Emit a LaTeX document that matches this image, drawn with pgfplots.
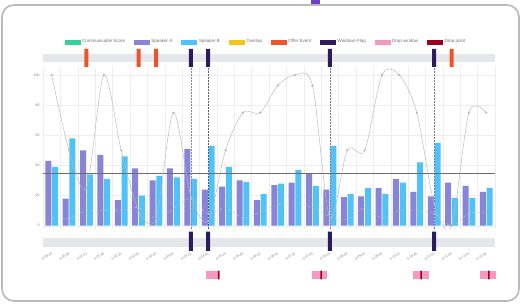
\documentclass[border=0pt]{standalone}
\usepackage{fontspec}
\setmainfont{Liberation Sans}
\usepackage{pgfplots}
\pgfplotsset{compat=1.18}
\definecolor{cscore}{HTML}{34D399}
\definecolor{spA}{HTML}{8884D8}
\definecolor{spB}{HTML}{4FC3F7}
\definecolor{overlapc}{HTML}{F5C518}
\definecolor{offer}{HTML}{F0522A}
\definecolor{winflag}{HTML}{2E1A5E}
\definecolor{dropwin}{HTML}{F49AC1}
\definecolor{droppt}{HTML}{A0001C}
\definecolor{band}{HTML}{E5E7EB}
\definecolor{tab}{HTML}{6A3FC0}
\pgfplotsset{trackaxis/.style={scale only axis, width=452pt, xmin=-0.5, xmax=25.5, ymin=0, ymax=1,
  axis line style={draw=none}, major tick length=0pt, ytick=\empty, clip=false, anchor=south west}}
\begin{document}
\begin{tikzpicture}[x=1pt,y=1pt]
\useasboundingbox (0,0) rectangle (521,307);
\fill[tab] (311,301) rectangle (320,307);
\draw[gray!55, line width=1.6pt, rounded corners=12pt, fill=white] (2,6) rectangle (519,302);

% main plot
\begin{axis}[scale only axis, width=452pt, height=161.2pt, at={(43pt,78.3pt)}, anchor=south west,
  xmin=-0.5, xmax=25.5, ymin=-2, ymax=105,
  ytick={0,20,...,100}, xtick={-0.5,0.5,...,25.5}, xticklabels={},
  xmajorgrids, ymajorgrids, grid style={gray!13, line width=0.3pt},
  axis line style={draw=none}, major tick length=0pt,
  yticklabel style={font=\fontsize{3.5}{4}\selectfont, text=gray},
  /pgf/number format/assume math mode=true,
  legend columns=8,
  legend style={draw=none, fill=none, at={(0.5,1)}, anchor=center, yshift=25.5pt, xshift=-3pt,
    font=\fontsize{4.5}{5}\selectfont, text=gray!90!black,
    /tikz/every even column/.append style={column sep=7pt}},
  ]
\addlegendimage{legend image code/.code={\fill[cscore] (0pt,-2pt) rectangle (15pt,2pt);}}
\addlegendentry{Communicable Score}
\addlegendimage{legend image code/.code={\fill[spA] (0pt,-2pt) rectangle (15pt,2pt);}}
\addlegendentry{Speaker A}
\addlegendimage{legend image code/.code={\fill[spB] (0pt,-2pt) rectangle (15pt,2pt);}}
\addlegendentry{Speaker B}
\addlegendimage{legend image code/.code={\fill[overlapc] (0pt,-2pt) rectangle (15pt,2pt);}}
\addlegendentry{Overlap}
\addlegendimage{legend image code/.code={\fill[offer] (0pt,-2pt) rectangle (15pt,2pt);}}
\addlegendentry{Offer Event}
\addlegendimage{legend image code/.code={\fill[winflag] (0pt,-2pt) rectangle (15pt,2pt);}}
\addlegendentry{Windows Flag}
\addlegendimage{legend image code/.code={\fill[dropwin] (0pt,-2pt) rectangle (15pt,2pt);}}
\addlegendentry{Drop window}
\addlegendimage{legend image code/.code={\fill[droppt] (0pt,-2pt) rectangle (15pt,2pt);}}
\addlegendentry{Drop point}

\addplot[ybar, bar width=6pt, bar shift=-3.4pt, fill=spA, draw=none, forget plot] coordinates {
(0,43) (1,18) (2,50) (3,47) (4,17) (5,38) (6,30) (7,38) (8,51) (9,24) (10,26) (11,30) (12,17)
(13,27) (14,28.5) (15,34.5) (16,24) (17,19) (18,19.5) (19,25) (20,31) (21,22.5) (22,19.5) (23,28.5) (24,26.5) (25,22.5)};
\addplot[ybar, bar width=6pt, bar shift=3.4pt, fill=spB, draw=none, forget plot] coordinates {
(0,39) (1,58) (2,34) (3,31) (4,46) (5,20) (6,33) (7,32) (8,31) (9,53) (10,39) (11,29) (12,21)
(13,28) (14,37) (15,26.5) (16,53) (17,21) (18,25) (19,21) (20,28.5) (21,42) (22,55) (23,18.5) (24,18.5) (25,25)};
% window flag lines
\addplot[winflag!55, dash pattern=on 1.5pt off 1.5pt, line width=0.5pt, forget plot] coordinates {(8,-2) (8,105)};
\addplot[winflag!75, dash pattern=on 1.5pt off 1.5pt, line width=0.5pt, forget plot] coordinates {(9,-2) (9,105)};
\addplot[winflag!60, dash pattern=on 1.5pt off 1.5pt, line width=0.5pt, forget plot] coordinates {(16,-2) (16,105)};
\addplot[winflag!60, dash pattern=on 1.5pt off 1.5pt, line width=0.5pt, forget plot] coordinates {(22,-2) (22,105)};
% threshold
\addplot[gray!85!black, line width=0.6pt, forget plot] coordinates {(-0.5,35) (25.5,35)};
% lower faint line
\addplot[smooth, gray!45, densely dashed, line width=0.35pt, mark=*, mark size=0.5pt,
  mark options={solid, fill=gray!55, draw=none}, forget plot] coordinates {
(0,5) (1,5) (2,10) (3,10) (4,10) (5,12) (6,5) (7,11) (8,18) (9,8) (10,12) (11,5) (12,9)
(13,14) (14,15) (15,12) (16,6) (17,4) (18,12) (19,5) (20,10) (21,10) (22,8) (23,0) (24,8) (25,9)};
% communicable score
\addplot[smooth, gray!55, line width=0.45pt, mark=*, mark size=0.8pt,
  mark options={fill=cscore!60!gray, draw=none}, forget plot] coordinates {
(0,100) (1,50) (2,25) (3,100) (4,50) (5,10) (6,5) (7,75) (8,20) (9,3) (10,50) (11,75) (12,75)
(13,93) (14,100) (15,93) (16,5) (17,50) (18,50) (19,100) (20,100) (21,75) (22,15) (23,0) (24,75) (25,75)};
\end{axis}

% top track
\begin{axis}[trackaxis, height=18pt, at={(43pt,240pt)}, xtick=\empty]
\fill[band] (axis cs:-0.5,0.25) rectangle (axis cs:25.5,0.74);
\addplot[ybar, bar width=4pt, bar shift=0pt, fill=offer, draw=none] coordinates {(2,1) (5,1) (6,1) (23,1)};
\addplot[ybar, bar width=4pt, bar shift=0pt, fill=winflag, draw=none] coordinates {(8,1) (9,1) (16,1) (22,1)};
\end{axis}

% bottom track
\begin{axis}[trackaxis, height=19.3pt, at={(43pt,56pt)}, xtick={0,...,25},
  xticklabels={0:00:15,0:00:45,0:01:15,0:01:45,0:02:15,0:02:45,0:03:15,0:03:45,0:04:15,0:04:45,0:05:15,0:05:45,0:06:15,0:06:45,0:07:15,0:07:45,0:08:15,0:08:45,0:09:15,0:09:45,0:10:15,0:10:45,0:11:15,0:11:45,0:12:15,0:12:45},
  xticklabel style={font=\fontsize{3.3}{4}\selectfont, text=gray, rotate=30, anchor=north east, inner sep=1pt}]
\fill[band] (axis cs:-0.5,0.22) rectangle (axis cs:25.5,0.69);
\addplot[ybar, bar width=4pt, bar shift=0pt, fill=winflag, draw=none] coordinates {(8,1) (9,1) (16,1) (22,1)};
\end{axis}

% drop track
\begin{axis}[trackaxis, height=8.6pt, at={(43pt,27.7pt)}, xtick=\empty]
\addplot[fill=dropwin, draw=none] coordinates {(8.87,1) (9.68,1)} \closedcycle;
\addplot[fill=dropwin, draw=none] coordinates {(14.96,1) (15.82,1)} \closedcycle;
\addplot[fill=dropwin, draw=none] coordinates {(20.78,1) (21.68,1)} \closedcycle;
\addplot[fill=dropwin, draw=none] coordinates {(24.65,1) (25.56,1)} \closedcycle;
\addplot[ybar, bar width=1.6pt, bar shift=0pt, fill=droppt, draw=none] coordinates {(9.6,1) (15.5,1) (21.25,1) (25.15,1)};
\end{axis}
\end{tikzpicture}
\end{document}
